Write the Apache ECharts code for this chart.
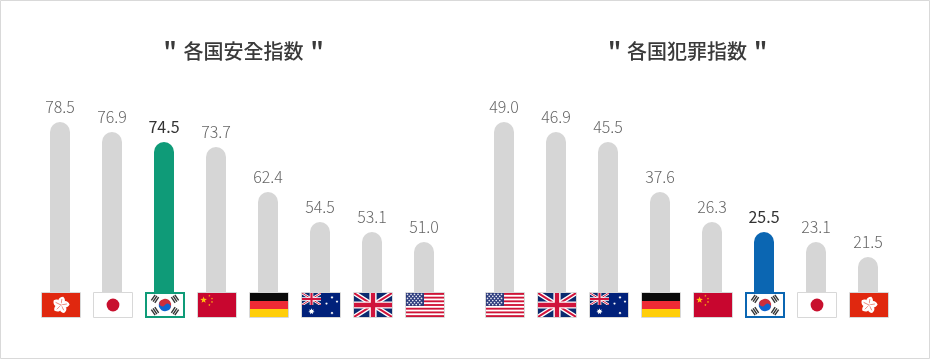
<!DOCTYPE html>
<html><head><meta charset="utf-8">
<style>html,body{margin:0;padding:0;background:#fff}#c{width:930px;height:359px}</style>
<script src="https://cdn.jsdelivr.net/npm/echarts@6/dist/echarts.min.js"></script>
</head><body><div id="c"></div>
<script>
const safetyTitle = '各国安全指数';
const crimeTitle = '各国犯罪指数';
const safetyFlags = ['hk','jp','kr','cn','de','au','uk','us'];
const safetyValues = ['78.5','76.9','74.5','73.7','62.4','54.5','53.1','51.0'];
const safetyBarLevels = [170,160,150,145,100,70,60,50];
const crimeFlags = ['us','uk','au','de','cn','kr','jp','hk'];
const crimeValues = ['49.0','46.9','45.5','37.6','26.3','25.5','23.1','21.5'];
const crimeBarLevels = [170,160,150,100,70,60,50,35];
const safetyColor = '#0f9b78', crimeColor = '#0b66b2', greyBar = '#d6d6d6';

function star(cx,cy,r,fill,n,rot){n=n||5;rot=rot||0;let p=[];for(let i=0;i<n*2;i++){const a=rot-Math.PI/2+i*Math.PI/n,q=i%2?r*(n===5?0.4:0.5):r;p.push((cx+q*Math.cos(a)).toFixed(2)+','+(cy+q*Math.sin(a)).toFixed(2));}return `<polygon points="${p.join(' ')}" fill="${fill}"/>`;}
function unionJack(w,h){return `<rect width="${w}" height="${h}" fill="#0b2a6f"/><path d="M0 0L${w} ${h}M${w} 0L0 ${h}" stroke="#fff" stroke-width="${h*0.2}"/><path d="M0 0L${w} ${h}M${w} 0L0 ${h}" stroke="#d0143c" stroke-width="${h*0.08}"/><path d="M${w/2} 0V${h}M0 ${h/2}H${w}" stroke="#fff" stroke-width="${h*0.3}"/><path d="M${w/2} 0V${h}M0 ${h/2}H${w}" stroke="#d0143c" stroke-width="${h*0.18}"/>`;}
function trigram(cx,cy,ang){return `<g transform="translate(${cx} ${cy}) rotate(${ang})"><rect x="-3.4" y="-2.8" width="6.8" height="1.4" fill="#333"/><rect x="-3.4" y="-0.7" width="6.8" height="1.4" fill="#333"/><rect x="-3.4" y="1.4" width="6.8" height="1.4" fill="#333"/></g>`;}
const flagSvg = {
  hk(){let s='<rect width="38" height="24" fill="#e0280f"/>';for(let i=0;i<5;i++){s+=`<g transform="rotate(${i*72+10} 19 12)"><path d="M19 12.4C13.8 9.6 14.6 4.6 19.8 3.4C23.4 6 22.6 10 19 12.4Z" fill="#fff"/><path d="M19 12L18.8 6" stroke="#e0280f" stroke-width="0.5" fill="none"/></g>`;}return s;},
  jp(){return `<rect width="38" height="24" fill="#fff"/><circle cx="19" cy="12" r="6.4" fill="#c8102e"/>`;},
  kr(){return `<rect width="36" height="22" fill="#fff"/><g transform="translate(18 11) rotate(33.7)"><path d="M-6.2 0A6.2 6.2 0 0 1 6.2 0Z" fill="#cd2e3a"/><path d="M-6.2 0A6.2 6.2 0 0 0 6.2 0Z" fill="#0f64cd"/><circle cx="-3.1" r="3.1" fill="#cd2e3a"/><circle cx="3.1" r="3.1" fill="#0f64cd"/></g>`+trigram(8,4.8,-56)+trigram(28,4.8,56)+trigram(8,17.2,56)+trigram(28,17.2,-56);},
  cn(){return '<rect width="38" height="24" fill="#c8062f"/>'+star(5.6,7,3.5,'#ffc20e')+star(11.4,2.8,1.2,'#ffc20e')+star(14,5.6,1.2,'#ffc20e')+star(14,9,1.2,'#ffc20e')+star(11.4,12,1.2,'#ffc20e');},
  de(){return '<rect width="38" height="8" fill="#0a0a0a"/><rect y="8" width="38" height="8" fill="#ee2a35"/><rect y="16" width="38" height="8" fill="#ffce0a"/>';},
  au(){return '<rect width="38" height="24" fill="#01217a"/>'+'<svg width="19" height="12" viewBox="0 0 19 12">'+unionJack(19,12)+'</svg>'+star(9.5,18.4,3.2,'#fff',7)+star(30,20,1.6,'#fff',7)+star(24.5,10.6,1.5,'#fff',7)+star(30,4.4,1.6,'#fff',7)+star(35,8.6,1.5,'#fff',7);},
  uk(){return unionJack(38,24);},
  us(){let s='<rect width="38" height="24" fill="#fff"/>';for(let i=0;i<7;i++)s+=`<rect y="${(i*2*24/13).toFixed(2)}" width="38" height="${(24/13).toFixed(2)}" fill="#cf1437"/>`;s+='<rect width="18" height="12.9" fill="#2b3a7c"/>';for(let r=0;r<6;r++)for(let c=0;c<(r%2?4:5);c++)s+=`<circle cx="${(1.5+c*3.5+(r%2?1.75:0)).toFixed(2)}" cy="${(1.3+r*2.06).toFixed(2)}" r="0.85" fill="#e8eaf4"/>`;return s;}
};
function flagUri(k){const isKr=k==='kr',w=isKr?36:38,h=isKr?22:24;
  const svg=`<svg xmlns="http://www.w3.org/2000/svg" width="${w}" height="${h}" viewBox="0 0 ${w} ${h}">${flagSvg[k]()}</svg>`;
  return 'data:image/svg+xml;charset=utf-8,'+encodeURIComponent(svg);}

const fontFam = '"Noto Sans CJK KR","Noto Sans CJK SC",sans-serif';
function makeSeries(idx,values,levels,flags,accent){
  return [{
    type:'bar',xAxisIndex:idx,yAxisIndex:idx,barWidth:20,silent:true,
    data:levels.map((v,i)=>{const hi=flags[i]==='kr';return{
      value:v,
      itemStyle:{color:hi?accent:greyBar,borderRadius:[10,10,0,0]},
      label:{show:true,position:'top',distance:7,formatter:values[i],fontFamily:fontFam,fontSize:16,letterSpacing:-0.6,
        fontWeight:hi?400:300,color:hi?'#333':'#666'}
    };})
  },{
    type:'custom',xAxisIndex:idx,yAxisIndex:idx,silent:true,z:5,
    data:flags.map((f,i)=>[i,0]),
    renderItem(params,api){
      const k=flags[params.dataIndex],p=api.coord([api.value(0),0]),isKr=k==='kr';
      const x=Math.round(p[0])-19,y=Math.round(p[1]);
      if(isKr){return{type:'group',children:[
        {type:'image',style:{image:flagUri(k),x:x+2,y:y+2,width:36,height:22}},
        {type:'rect',shape:{x:x+1,y:y+1,width:38,height:24},style:{fill:null,stroke:accent,lineWidth:2}}
      ]};}
      return{type:'group',children:[
        {type:'image',style:{image:flagUri(k),x:x+1,y:y+1,width:38,height:24}},
        {type:'rect',shape:{x:x+0.5,y:y+0.5,width:39,height:25},style:{fill:null,stroke:'#d8d8d8',lineWidth:1}}
      ]};
    }
  }];
}
const chart=echarts.init(document.getElementById('c'),null,{renderer:'canvas'});
chart.setOption({
  animation:false,backgroundColor:'#fff',
  title:[safetyTitle,crimeTitle].map((t,i)=>[
    {text:t,left:i?682:238.5,top:36,textAlign:'center',textStyle:{fontFamily:fontFam,fontSize:20,fontWeight:500,color:'#3a3a3a'}},
    {text:'"',left:i?609.5:165,top:34,textAlign:'center',textStyle:{fontFamily:fontFam,fontSize:23,fontWeight:700,color:'#3a3a3a'}},
    {text:'"',left:i?755.5:312,top:34,textAlign:'center',textStyle:{fontFamily:fontFam,fontSize:23,fontWeight:700,color:'#3a3a3a'}}
  ]).flat(),
  grid:[{left:34,width:416,top:122,height:170},{left:478,width:416,top:122,height:170}],
  xAxis:[0,1].map(i=>({type:'category',gridIndex:i,show:false,data:(i?crimeFlags:safetyFlags)})),
  yAxis:[0,1].map(i=>({type:'value',gridIndex:i,show:false,min:0,max:170})),
  series:[...makeSeries(0,safetyValues,safetyBarLevels,safetyFlags,safetyColor),
          ...makeSeries(1,crimeValues,crimeBarLevels,crimeFlags,crimeColor)],
  graphic:[{type:'rect',silent:true,z:100,shape:{x:0.5,y:0.5,width:929,height:358},style:{fill:null,stroke:'#d9d9d9',lineWidth:1}}]
});
</script></body></html>
